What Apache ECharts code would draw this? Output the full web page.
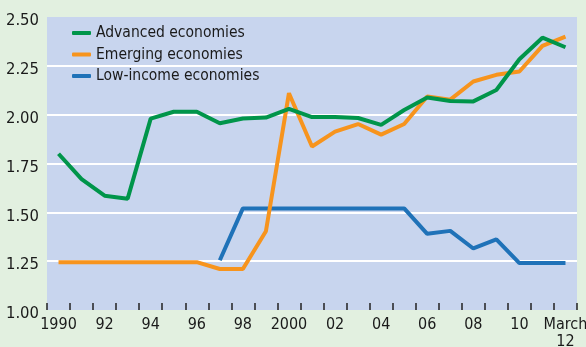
<!DOCTYPE html>
<html>
<head>
<meta charset="utf-8">
<script src="https://cdn.jsdelivr.net/npm/echarts@6/dist/echarts.min.js"></script>
<style>
  html, body { margin: 0; padding: 0; background: #e2f0e0; }
  #chart { width: 586px; height: 347px; }
</style>
</head>
<body>
<div id="chart"></div>
<script>
// Years on the category axis
const years = ['1990','1991','1992','1993','1994','1995','1996','1997','1998','1999','2000',
  '2001','2002','2003','2004','2005','2006','2007','2008','2009','2010','2011','2012'];
// Labels shown under every other year
const yearLabels = {
  '1990': '1990', '1992': '92', '1994': '94', '1996': '96', '1998': '98', '2000': '2000',
  '2002': '02', '2004': '04', '2006': '06', '2008': '08', '2010': '10', '2012': 'March\n12'
};
const yTicks = [1.00, 1.25, 1.50, 1.75, 2.00, 2.25, 2.50];

const advanced = [1.80, 1.67, 1.585, 1.57, 1.98, 2.015, 2.015, 1.956, 1.98, 1.985, 2.03,
  1.988, 1.988, 1.983, 1.948, 2.024, 2.088, 2.07, 2.068, 2.126, 2.284, 2.394, 2.345];
const emerging = [1.245, 1.245, 1.245, 1.245, 1.245, 1.245, 1.245, 1.21, 1.21, 1.403, 2.11,
  1.837, 1.913, 1.952, 1.898, 1.952, 2.093, 2.077, 2.17, 2.204, 2.221, 2.352, 2.40];
const lowIncome = [null, null, null, null, null, null, null, 1.255, 1.52, 1.52, 1.52,
  1.52, 1.52, 1.52, 1.52, 1.52, 1.39, 1.405, 1.315, 1.362, 1.24, 1.24, 1.24];

const FONT = '"DejaVu Sans Condensed", "Liberation Sans", sans-serif';
const GREEN = '#00954a', ORANGE = '#f7941d', BLUE = '#1f72b8';

const chart = echarts.init(document.getElementById('chart'), null, { renderer: 'canvas' });

function lineSeries(name, data, color, z) {
  return {
    name, type: 'line', data, z,
    symbol: 'none', smooth: false, connectNulls: false,
    lineStyle: { color, width: 4 },
    itemStyle: { color },
    emphasis: { disabled: true }
  };
}

chart.setOption({
  backgroundColor: '#e2f0e0',
  animation: false,
  grid: {
    left: 47, right: 9, top: 17, bottom: 37,
    outerBoundsMode: 'none', containLabel: false,
    show: true, backgroundColor: '#c8d5ee', borderWidth: 0
  },
  legend: {
    orient: 'vertical', left: 72, top: 24, padding: 0,
    itemWidth: 19, itemHeight: 4, itemGap: 3.5, icon: 'roundRect',
    textStyle: { fontFamily: FONT, fontSize: 15.5, color: '#1a1a1a', lineHeight: 18 },
    data: ['Advanced economies', 'Emerging economies', 'Low-income economies']
  },
  xAxis: {
    type: 'category', data: years, boundaryGap: true, z: 5,
    axisLine: { show: false },
    axisTick: { show: true, inside: true, length: 7, interval: 0,
      lineStyle: { color: '#222', width: 1.5 } },
    axisLabel: {
      interval: 0, margin: 6,
      fontFamily: FONT, fontSize: 16, color: '#1a1a1a', lineHeight: 17,
      formatter: v => yearLabels[v] || ''
    },
    splitLine: { show: false }
  },
  yAxis: {
    type: 'value', min: yTicks[0], max: yTicks[yTicks.length - 1], interval: 0.25,
    axisLine: { show: false }, axisTick: { show: false },
    axisLabel: {
      margin: 8, fontFamily: FONT, fontSize: 16.5, color: '#1a1a1a',
      verticalAlign: 'top', lineHeight: 8,
      formatter: v => v.toFixed(2)
    },
    splitLine: {
      show: true,
      lineStyle: { color: '#ffffff', width: 2 },
      showMinLine: false, showMaxLine: false
    }
  },
  series: [
    lineSeries('Advanced economies', advanced, GREEN, 4),
    lineSeries('Emerging economies', emerging, ORANGE, 3),
    lineSeries('Low-income economies', lowIncome, BLUE, 2)
  ]
});
</script>
</body>
</html>
